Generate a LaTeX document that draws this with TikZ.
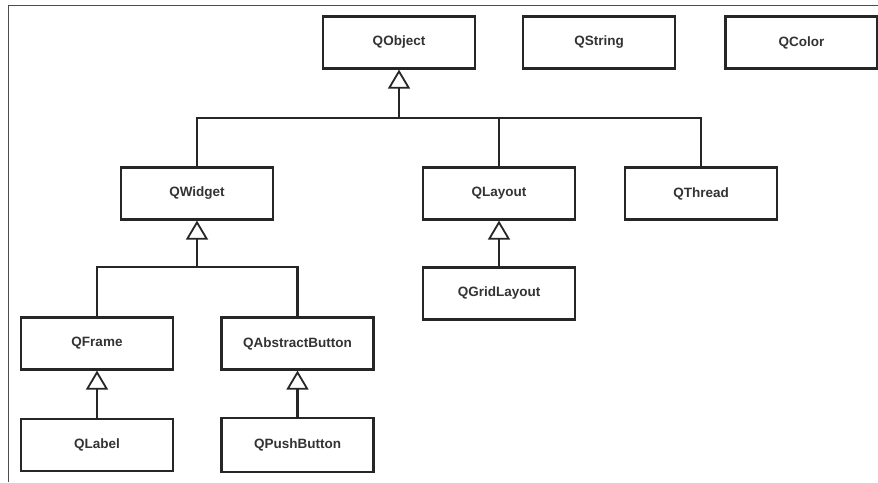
\documentclass[tikz,border=0pt]{standalone}
\usepackage{fontspec}
\setmainfont{Liberation Sans}
\usetikzlibrary{arrows.meta}
\begin{document}
\begin{tikzpicture}[x=1pt,y=-1pt,
  cls/.style={draw=black!85, line width=2.2pt, fill=white, minimum width=152pt, minimum height=52pt,
    inner sep=0pt, font=\fontsize{13.5}{15}\selectfont\bfseries, text=black!80},
  conn/.style={draw=black!85, line width=2.2pt},
  inh/.style={conn, -{Triangle[open, length=19pt, width=22pt, line width=1.8pt]}}]
\useasboundingbox (0,0) rectangle (878,482);
\fill[white] (0,0) rectangle (878,482);
\draw[black!70, line width=1pt] (8,482) -- (8,5) -- (878,5);
% nodes
\node[cls] (qobject) at (399,42.5) {QObject};
\node[cls] (qstring) at (599,42.5) {QString};
\node[cls] (qcolor) at (801.5,42.5) {QColor};
\node[cls] (qwidget) at (197,193.5) {QWidget};
\node[cls] (qlayout) at (499,193.5) {QLayout};
\node[cls] (qthread) at (701,193.5) {QThread};
\node[cls] (qgrid) at (499,293.5) {QGridLayout};
\node[cls] (qframe) at (97,343.5) {QFrame};
\node[cls] (qabs) at (297.5,343.5) {QAbstractButton};
\node[cls] (qlabel) at (97,445) {QLabel};
\node[cls, minimum height=54pt] (qpush) at (297.5,445) {QPushButton};
% buses
\coordinate (b1) at (399,118);
\coordinate (b2) at (197,267);
\draw[conn] (qwidget.north) |- (b1) -| (qthread.north);
\draw[conn] (qlayout.north) -- (qlayout.north |- b1);
\draw[inh] (b1) -- (qobject.south);
\draw[conn] (qframe.north) |- (b2) -| (qabs.north);
\draw[inh] (b2) -- (qwidget.south);
\draw[inh] (qgrid.north) -- (qlayout.south);
\draw[inh] (qlabel.north) -- (qframe.south);
\draw[inh] (qpush.north) -- (qabs.south);
\end{tikzpicture}
\end{document}
